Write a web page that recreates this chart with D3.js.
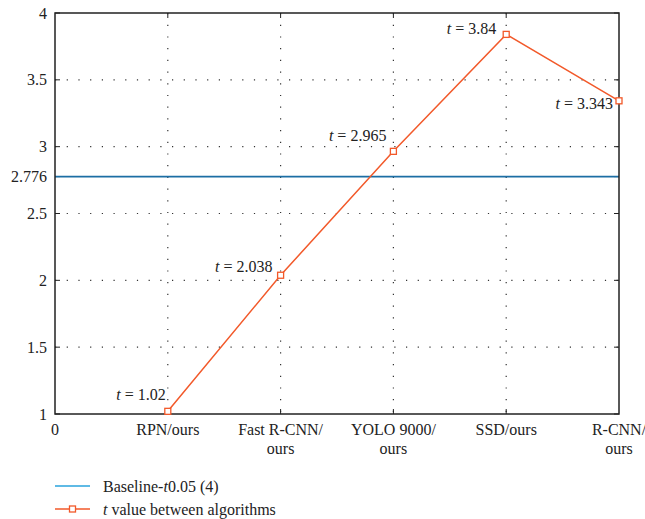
<!DOCTYPE html>
<html>
<head>
<meta charset="utf-8">
<script src="https://d3js.org/d3.v7.min.js"></script>
<style>
  body { margin: 0; background: #fff; }
</style>
</head>
<body>
<div id="chart"></div>
<script>
// data
const categories = [["0"], ["RPN/ours"], ["Fast R-CNN/", "ours"], ["YOLO 9000/", "ours"], ["SSD/ours"], ["R-CNN/", "ours"]];
const tValues = [1.02, 2.038, 2.965, 3.84, 3.343];
const tLabels = ["1.02", "2.038", "2.965", "3.84", "3.343"];
const baseline = 2.776;
const yTicks = [1, 1.5, 2, 2.5, 2.776, 3, 3.5, 4];
const gridY = [1.5, 2, 2.5, 3, 3.5];

const W = 645, H = 519;
const margin = { top: 13, right: 26, bottom: 105, left: 55 };
const width = W - margin.left - margin.right,
      height = H - margin.top - margin.bottom;
const FONT = "'Liberation Serif', 'DejaVu Serif', serif";

const root = d3.select("#chart").append("svg")
    .attr("width", W).attr("height", H)
    .attr("font-family", FONT)
    .attr("font-size", 16)
    .attr("fill", "#222");
const svg = root.append("g")
    .attr("transform", `translate(${margin.left},${margin.top})`);

const x = d3.scaleLinear().domain([0, 5]).range([0, width]);
const y = d3.scaleLinear().domain([1, 4]).range([height, 0]);

// dotted grid
svg.selectAll(".gy").data(gridY).enter().append("line")
    .attr("x1", 0).attr("x2", width)
    .attr("y1", d => y(d)).attr("y2", d => y(d))
    .attr("stroke", "#333").attr("stroke-width", 1.2)
    .attr("stroke-dasharray", "1.2,10.5");
svg.selectAll(".gx").data([1, 2, 3, 4]).enter().append("line")
    .attr("x1", d => x(d)).attr("x2", d => x(d))
    .attr("y1", 0).attr("y2", height)
    .attr("stroke", "#333").attr("stroke-width", 1.2)
    .attr("stroke-dasharray", "1.2,10.5");

// inner ticks on all sides
const tk = 5;
[1, 2, 3, 4].forEach(v => {
  svg.append("line").attr("x1", x(v)).attr("x2", x(v)).attr("y1", height).attr("y2", height - tk).attr("stroke", "#222");
  svg.append("line").attr("x1", x(v)).attr("x2", x(v)).attr("y1", 0).attr("y2", tk).attr("stroke", "#222");
});
yTicks.forEach(v => {
  svg.append("line").attr("x1", 0).attr("x2", tk).attr("y1", y(v)).attr("y2", y(v)).attr("stroke", "#222");
  svg.append("line").attr("x1", width).attr("x2", width - tk).attr("y1", y(v)).attr("y2", y(v)).attr("stroke", "#222");
});

// baseline
svg.append("line")
    .attr("x1", 0).attr("x2", width)
    .attr("y1", y(baseline)).attr("y2", y(baseline))
    .attr("stroke", "#1c6ea4").attr("stroke-width", 1.6);

// frame
svg.append("rect").attr("x", 0).attr("y", 0).attr("width", width).attr("height", height)
    .attr("fill", "none").attr("stroke", "#222").attr("stroke-width", 1.5);

// y labels
svg.selectAll(".yl").data(yTicks).enter().append("text")
    .attr("x", -8).attr("y", d => y(d)).attr("dy", "0.35em")
    .attr("text-anchor", "end")
    .text(d => d);

// x labels
categories.forEach((lines, i) => {
  const t = svg.append("text")
      .attr("x", x(i)).attr("y", height + 21)
      .attr("text-anchor", "middle");
  lines.forEach((s, j) => {
    t.append("tspan").attr("x", x(i)).attr("dy", j === 0 ? 0 : 19).text(s);
  });
});

// t line
const orange = "#f2592a";
const pts = tValues.map((v, i) => [x(i + 1), y(v)]);
svg.append("path").datum(pts)
    .attr("d", d3.line())
    .attr("fill", "none").attr("stroke", orange).attr("stroke-width", 1.5);
svg.selectAll(".mk").data(pts).enter().append("rect")
    .attr("x", d => d[0] - 3).attr("y", d => d[1] - 3)
    .attr("width", 6).attr("height", 6)
    .attr("fill", "#fff").attr("stroke", orange).attr("stroke-width", 1.3);

// point labels
const lblOff = [[-2, -11], [-8, -3], [-7, -10], [-10, 0], [-6, 8]];
tValues.forEach((v, i) => {
  const t = svg.append("text")
      .attr("x", x(i + 1) + lblOff[i][0]).attr("y", y(v) + lblOff[i][1])
      .attr("text-anchor", "end");
  t.append("tspan").style("font-style", "italic").text("t");
  t.append("tspan").text(" = " + tLabels[i]);
});

// legend
const lg = svg.append("g").attr("transform", `translate(0, ${height + 72})`);
lg.append("line").attr("x1", 0).attr("x2", 35).attr("y1", 0).attr("y2", 0)
    .attr("stroke", "#2aa3dd").attr("stroke-width", 1.6);
const l1 = lg.append("text").attr("x", 48).attr("y", 0).attr("dy", "0.35em");
l1.append("tspan").text("Baseline-");
l1.append("tspan").style("font-style", "italic").text("t");
l1.append("tspan").text("0.05 (4)");

lg.append("line").attr("x1", 0).attr("x2", 35).attr("y1", 23).attr("y2", 23)
    .attr("stroke", orange).attr("stroke-width", 1.5);
lg.append("rect").attr("x", 14.5).attr("y", 20).attr("width", 6).attr("height", 6)
    .attr("fill", "#fff").attr("stroke", orange).attr("stroke-width", 1.3);
const l2 = lg.append("text").attr("x", 48).attr("y", 23).attr("dy", "0.35em");
l2.append("tspan").style("font-style", "italic").text("t");
l2.append("tspan").text(" value between algorithms");
</script>
</body>
</html>
